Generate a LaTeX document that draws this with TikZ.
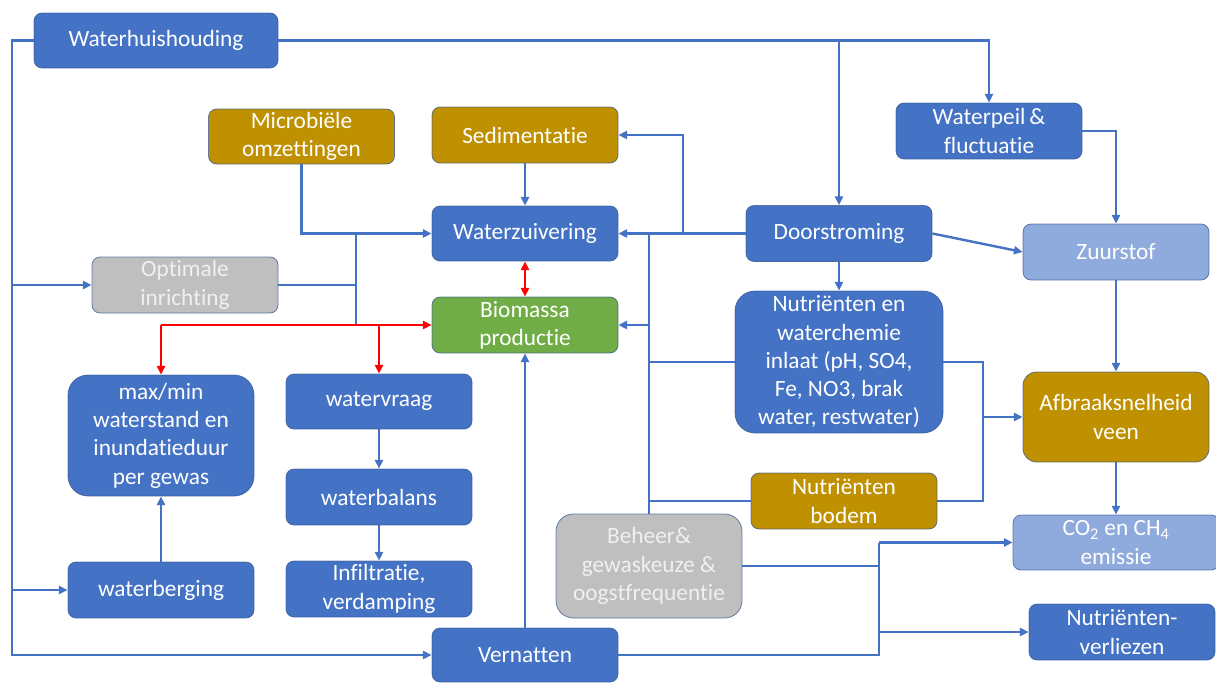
\documentclass[tikz,border=0pt]{standalone}
\usepackage{fontspec}
\setmainfont[Ligatures=NoCommon]{Carlito}
\usetikzlibrary{arrows.meta,positioning}
\definecolor{wblue}{HTML}{4472C4}
\definecolor{wgold}{HTML}{BF9000}
\definecolor{wgreen}{HTML}{70AD47}
\definecolor{wgrey}{HTML}{BFBFBF}
\definecolor{wlight}{HTML}{8FAADC}
\definecolor{wedge}{HTML}{2F528F}
\definecolor{wred}{HTML}{FF0000}

\tikzset{
  box/.style={draw=wedge, draw opacity=0.7, line width=0.6pt, rounded corners=6pt, text=white, align=center,
    inner sep=1pt, minimum width=139.5pt, minimum height=42pt, font=\fontsize{17.5}{21.2}\selectfont},
  bluebox/.style={box, fill=wblue},
  goldbox/.style={box, fill=wgold},
  greenbox/.style={box, fill=wgreen},
  greybox/.style={box, fill=wgrey, text=white!94!black},
  lightbox/.style={box, fill=wlight},
  link/.style={draw=wblue, line width=1.8pt},
  linkto/.style={link, -{Triangle[length=6.5pt,width=6pt]}},
  redto/.style={draw=wred, line width=1.9pt, -{Triangle[length=6.5pt,width=6pt]}},
  redboth/.style={redto, {Triangle[length=6.5pt,width=6pt]}-{Triangle[length=6.5pt,width=6pt]}}
}

\begin{document}
\begin{tikzpicture}[x=0.75pt,y=-0.75pt]
\useasboundingbox (0,0) rectangle (1216,682);

% boxes
\node[bluebox, minimum width=183pt, minimum height=41.25pt] (wh) at (156,40.5) {Waterhuishouding};
\node[goldbox, minimum height=41.25pt] (micro) at (301.5,136.5) {Microbiële\\omzettingen};
\node[goldbox] (sedi) at (525,135) {Sedimentatie};
\node[bluebox] (peil) at (989,131) {Waterpeil\,\&\\fluctuatie};
\node[bluebox, minimum height=41.25pt] (zuiv) at (525,233.5) {Waterzuivering};
\node[bluebox] (door) at (839,233.5) {Doorstroming};
\node[lightbox] (zuur) at (1116,252) {Zuurstof};
\node[greybox] (opt) at (185,285) {Optimale\\inrichting};
\node[greenbox] (bio) at (525,325) {Biomassa\\productie};
\node[bluebox, rounded corners=15pt, minimum width=156pt, minimum height=106.5pt] (chem) at (839,362)
  {Nutriënten en\\waterchemie\\inlaat (pH, SO4,\\Fe, NO3, brak\\water, restwater)};
\node[goldbox, rounded corners=10pt, minimum height=67.5pt] (afbr) at (1116,417) {Afbraaksnelheid\\veen};
\node[bluebox, rounded corners=15pt, minimum height=90.75pt] (maxmin) at (161,435.5)
  {max/min\\waterstand en\\inundatieduur\\per gewas};
\node[bluebox, minimum height=41.25pt] (vraag) at (379,401.5) {watervraag};
\node[bluebox] (balans) at (379,497) {waterbalans};
\node[bluebox] (infil) at (379,589) {Infiltratie,\\verdamping};
\node[goldbox] (bodem) at (844,501) {Nutriënten\\bodem};
\node[greybox, rounded corners=13pt, minimum height=78pt] (beheer) at (649,566)
  {Beheer\&\\gewaskeuze \&\\oogstfrequentie};
\node[lightbox, minimum width=154.5pt, minimum height=41.25pt] (emis) at (1116,542.5)
  {CO\textsubscript{2} en CH\textsubscript{4}\\emissie};
\node[bluebox] (berg) at (161,590) {waterberging};
\node[bluebox, minimum height=40.5pt] (vern) at (525,655) {Vernatten};
\node[bluebox] (verl) at (1122,632) {Nutriënten-\\verliezen};

% junctions
\coordinate (lt) at (12,40.5);
\coordinate (lb) at (12,655);
\coordinate (jm) at (356,233.5);
\coordinate (jr) at (356,325);
\coordinate (js) at (683,233.5);
\coordinate (jn) at (983,417);
\coordinate (jt) at (879,542.5);

% water management lines
\draw[linkto] (wh.west) -- (lt) -- (lb) -- (vern.west);
\draw[linkto] (lt |- opt.west) -- (opt.west);
\draw[linkto] (lt |- berg.west) -- (berg.west);
\draw[linkto] (wh.east) -| (peil.north);
\draw[linkto] (wh.east -| door.north) -- (door.north);
\draw[linkto] (peil.east) -| (zuur.north);

% left part
\draw[linkto] (micro.south) |- (zuiv.west);
\draw[link] (jm) -- (jr);
\draw[link] (opt.east) -- (opt.east -| jm);
\draw[redto] (bio.west -| maxmin.north) -- (bio.west);
\draw[redto] (bio.west -| maxmin.north) -- (maxmin.north);
\draw[redto] (bio.west -| vraag.north) -- (vraag.north);
\draw[redboth] (zuiv.south) -- (bio.north);
\draw[linkto] (sedi.south) -- (zuiv.north);
\draw[linkto] (berg.north) -- (maxmin.south);
\draw[linkto] (vraag.south) -- (balans.north);
\draw[linkto] (balans.south) -- (infil.north);
\draw[linkto] (vern.north) -- (bio.south);

% middle bus
\draw[linkto] (door.west) -- (zuiv.east);
\draw[linkto] (js) |- (sedi.east);
\draw[link] (beheer.north) -- (beheer.north |- zuiv.east);
\draw[linkto] (beheer.north |- bio.east) -- (bio.east);
\draw[link] (chem.west) -- (chem.west -| beheer.north);
\draw[link] (bodem.west) -- (bodem.west -| beheer.north);

% right part
\draw[linkto] (door.east) -- (zuur.west);
\draw[linkto] (door.south) -- (chem.north);
\draw[linkto] (zuur.south) -- (afbr.north);
\draw[link] (chem.east) -| (jn);
\draw[link] (bodem.east) -| (jn);
\draw[linkto] (jn) -- (afbr.west);
\draw[linkto] (afbr.south) -- (emis.north);
\draw[link] (vern.east) -| (jt);
\draw[link] (beheer.east) -- (beheer.east -| jt);
\draw[linkto] (jt) -- (emis.west);
\draw[linkto] (jt |- verl.west) -- (verl.west);
\end{tikzpicture}
\end{document}
